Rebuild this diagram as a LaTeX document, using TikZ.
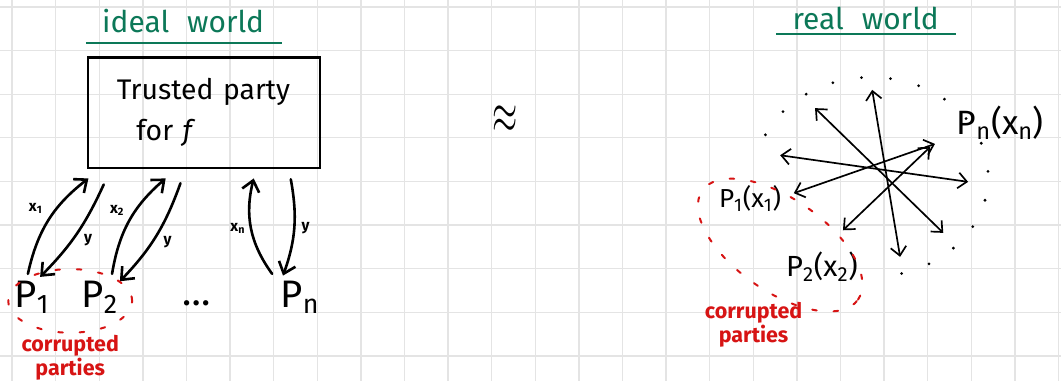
\documentclass[tikz,border=0pt]{standalone}
\usepackage{fontspec}
\setmainfont{Fira Sans}
\usepackage{graphicx}
\usepackage{tikz}
\usetikzlibrary{positioning,arrows.meta,calc}
\definecolor{inkgreen}{RGB}{12,120,88}
\definecolor{inkred}{RGB}{215,20,20}
\definecolor{gridgray}{RGB}{228,228,228}
\tikzset{
  msarr/.style={-{Straight Barb[length=2.4mm,width=4mm]},line width=1.7pt,line cap=round},
  msbiarr/.style={{Straight Barb[length=2mm,width=3.6mm]}-{Straight Barb[length=2mm,width=3.6mm]},
                  line width=1.1pt,line cap=round},
  tpbox/.style={draw=black,line width=1.8pt,minimum width=5.32cm,minimum height=2.54cm,
                text width=4.0cm,inner xsep=0.66cm,align=left,font=\fontsize{18.5}{27}\selectfont},
  party/.style={inner sep=1pt,font=\fontsize{25}{26}\selectfont},
  rparty/.style={inner sep=1pt,font=\fontsize{19}{20}\selectfont},
  lbl/.style={inner sep=1pt,font=\fontsize{10}{10}\selectfont\bfseries},
  world/.style={text=inkgreen,font=\fontsize{19.5}{20}\selectfont},
  wline/.style={draw=inkgreen,line width=1.3pt},
  corrupt/.style={draw=inkred,line width=1.3pt,line cap=round,dash pattern=on 3pt off 11pt},
  cnote/.style={text=inkred,align=center,inner sep=0pt,font=\fontsize{14}{12.5}\selectfont\bfseries},
  dotring/.style={line width=2pt,line cap=round,dash pattern=on 0pt off 19pt}
}

\begin{document}
\begin{tikzpicture}
\fill[white] (0,0) rectangle (24.33,-8.74);
\useasboundingbox (0,0) rectangle (24.33,-8.74);
\foreach \i in {0,...,24} \draw[gridgray,line width=0.9pt] (0.275+\i,0) -- (0.275+\i,-8.74);
\foreach \j in {0,...,8} \draw[gridgray,line width=0.9pt] (0,-0.16-\j) -- (24.33,-0.16-\j);

\node[world] (ideal) at (4.2,-0.48) {ideal\hspace{0.6em}world};
\draw[wline] (1.97,-0.99) -- (6.47,-0.99);
\node[world] (real) at (19.85,-0.42) {real\hspace{0.6em}world};
\draw[wline] (17.8,-0.78) -- (21.93,-0.78);

\node[tpbox] (tp) at (4.68,-2.58) {Trusted party\\\hspace*{0.45cm}for \textit{f}};
\node[party] (p1) at (0.73,-6.81) {P\textsubscript{1}};
\node[party] (p2) at (2.29,-6.81) {P\textsubscript{2}};
\node[party] (dots) at (4.5,-6.95) {\dots};
\node[party] (pn) at (6.88,-6.81) {P\textsubscript{n}};

\coordinate (t1) at ($(tp.south west)+(0.04,-0.21)$);
\coordinate (t2) at ($(tp.south west)+(0.39,-0.35)$);
\coordinate (t3) at ($(tp.south west)+(1.81,-0.21)$);
\coordinate (t4) at ($(tp.south west)+(2.15,-0.32)$);
\coordinate (t5) at ($(tp.south west)+(3.83,-0.21)$);
\coordinate (t6) at ($(tp.south west)+(4.68,-0.23)$);
\coordinate (b1) at ($(p1.north)+(-0.09,0.12)$);
\coordinate (b2) at ($(p1.north)+(0.19,0.05)$);
\coordinate (b3) at ($(p2.north)+(0.28,0.12)$);
\coordinate (b4) at ($(p2.north)+(0.46,-0.05)$);
\coordinate (b5) at ($(pn.north)+(-0.64,0.12)$);
\coordinate (b6) at ($(pn.north)+(-0.39,0.08)$);

\draw[msarr] (b1) to[bend left=20] node[lbl,midway,above left=3pt] {x\textsubscript{1}} (t1);
\draw[msarr] (t2) to[bend left=10] node[lbl,midway,right=3pt,yshift=-4pt] {y} (b2);
\draw[msarr] (b3) to[bend left=20] node[lbl,midway,above left=2pt] {x\textsubscript{2}} (t3);
\draw[msarr] (t4) to[bend left=12] node[lbl,midway,right=3pt,yshift=-4pt] {y} (b4);
\draw[msarr] (b5) to[bend left=25] node[lbl,midway,left=2pt] {x\textsubscript{n}} (t5);
\draw[msarr] (t6) to[bend left=15] node[lbl,midway,right=3pt] {y} (b6);

\draw[corrupt] (1.61,-6.9) ellipse[x radius=1.42,y radius=0.73];
\node[cnote] (cl) at (1.61,-8.2) {corrupted\\parties};

\node[font=\fontsize{40}{40}\selectfont] (approx) at (11.58,-2.75) {\scalebox{0.85}[1.5]{$\approx$}};

\node[rparty,font=\fontsize{17}{18}\selectfont] (p1r) at (17.2,-4.56) {P\textsubscript{1}(x\textsubscript{1})};
\node[rparty] (p2r) at (18.85,-6.12) {P\textsubscript{2}(x\textsubscript{2})};
\node[rparty,font=\fontsize{22}{22}\selectfont] (pnr) at (22.94,-2.82) {P\textsubscript{n}(x\textsubscript{n})};

\coordinate (ring) at (19.98,-4.06);
\draw[dotring] ($(ring)+(-75:2.68 and 2.29)$) arc[start angle=-75,end angle=168,x radius=2.68,y radius=2.29];
\draw[corrupt,rotate around={-35:(17.89,-5.62)}] (17.89,-5.62) ellipse[x radius=2.18,y radius=1.06];
\node[cnote] (cr) at (17.28,-7.45) {corrupted\\parties};

\coordinate (r1a) at (17.89,-3.56);
\coordinate (r1b) at (22.2,-4.17);
\coordinate (r2a) at ($(p1r.east)+(0.25,0.13)$);
\coordinate (r2b) at (21.44,-3.30);
\coordinate (r3a) at (18.69,-2.48);
\coordinate (r3b) at (21.63,-5.34);
\coordinate (r4a) at (20.0,-2.06);
\coordinate (r4b) at (20.64,-5.89);
\coordinate (r5a) at (19.33,-5.28);
\coordinate (r5b) at (21.33,-3.37);
\draw[msbiarr] (r1a) -- (r1b);
\draw[msbiarr] (r2a) -- (r2b);
\draw[msbiarr] (r3a) -- (r3b);
\draw[msbiarr] (r4a) -- (r4b);
\draw[msbiarr] (r5a) -- (r5b);
\end{tikzpicture}
\end{document}
